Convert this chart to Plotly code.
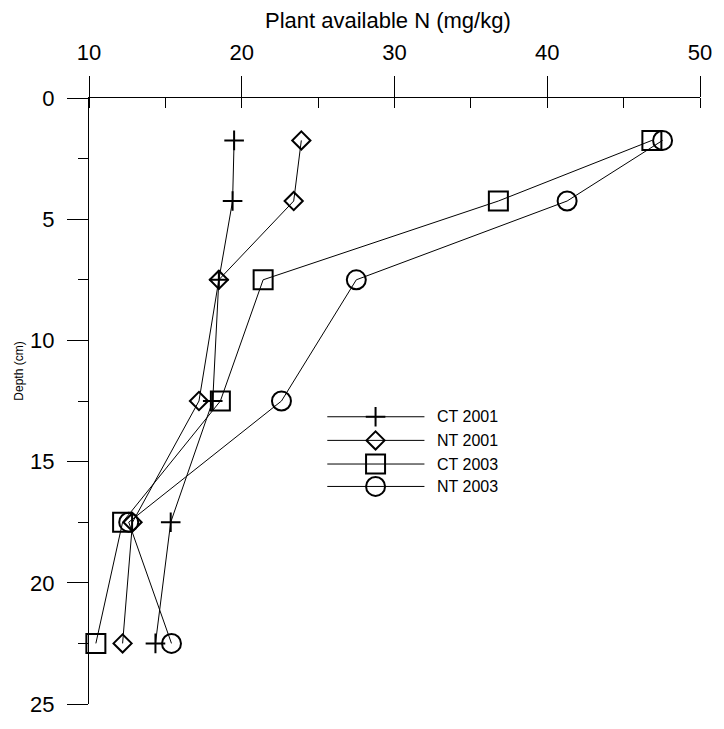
import plotly.graph_objects as go

# ---- data ----
depth = [1.75, 4.25, 7.5, 12.5, 17.5, 22.5]
ct_2001 = [19.5, 19.4, 18.5, 18.1, 15.35, 14.35]
nt_2001 = [23.9, 23.4, 18.5, 17.2, 12.85, 12.2]
ct_2003 = [46.85, 36.8, 21.4, 18.6, 12.2, 10.45]
nt_2003 = [47.55, 41.3, 27.5, 22.6, 12.6, 15.4]
series_names = ["CT 2001", "NT 2001", "CT 2003", "NT 2003"]
x_tick_vals = [10, 20, 30, 40, 50]
y_tick_vals = [0, 5, 10, 15, 20, 25]

series_values = [ct_2001, nt_2001, ct_2003, nt_2003]
symbols = ["cross-thin", "diamond-open", "square-open", "circle-open"]
sizes = [14, 14, 19, 19]

FONT = "Liberation Sans, Arial, sans-serif"

fig = go.Figure()

for name, vals, sym, sz in zip(series_names, series_values, symbols, sizes):
    fig.add_trace(go.Scatter(
        x=vals, y=depth, name=name, mode="lines+markers",
        line=dict(color="black", width=1),
        marker=dict(symbol=sym, size=sz, color="black",
                    line=dict(color="black", width=2)),
        cliponaxis=False, showlegend=False,
    ))

# ---- hand-made legend on an overlay axis (0..1 box) ----
leg_x0, leg_x1, leg_xm, leg_xt = 0.39, 0.549, 0.469, 0.566
leg_rows = [0.474, 0.435, 0.396, 0.359]
for name, sym, sz, ly in zip(series_names, symbols, sizes, leg_rows):
    fig.add_trace(go.Scatter(
        x=[leg_x0, leg_x1], y=[ly, ly], mode="lines",
        line=dict(color="black", width=1),
        xaxis="x2", yaxis="y2", showlegend=False, hoverinfo="skip"))
    fig.add_trace(go.Scatter(
        x=[leg_xm], y=[ly], mode="markers",
        marker=dict(symbol=sym, size=sz, color="black",
                    line=dict(color="black", width=2)),
        xaxis="x2", yaxis="y2", showlegend=False, hoverinfo="skip"))
    fig.add_annotation(x=leg_xt, y=ly, xref="x2", yref="y2", text=name,
                       showarrow=False, xanchor="left", yanchor="middle",
                       font=dict(family=FONT, size=16, color="black"))

# axis titles as annotations for precise placement
fig.add_annotation(x=0.49, y=1.128, xref="paper", yref="paper",
                   text="Plant available N (mg/kg)", showarrow=False,
                   xanchor="center", yanchor="middle",
                   font=dict(family=FONT, size=22, color="black"))
fig.add_annotation(x=-0.114, y=0.549, xref="paper", yref="paper",
                   text="Depth (cm)", showarrow=False, textangle=-90,
                   xanchor="center", yanchor="middle",
                   font=dict(family=FONT, size=12, color="black"))

fig.update_layout(
    width=724, height=729,
    margin=dict(l=89, r=17, t=98, b=13),
    paper_bgcolor="white", plot_bgcolor="white",
    font=dict(family=FONT, color="black"),
    xaxis=dict(
        side="top", range=[10, 50], tickvals=x_tick_vals,
        showline=True, linecolor="black", linewidth=1,
        ticks="outside", ticklen=21, tickwidth=1, tickcolor="black",
        ticklabelstandoff=7,
        minor=dict(ticks="inside", ticklen=10, dtick=5, tickwidth=1,
                   tickcolor="black", showgrid=False),
        showgrid=False, zeroline=False,
        tickfont=dict(family=FONT, size=22, color="black"),
    ),
    yaxis=dict(
        range=[25, 0], tickvals=y_tick_vals,
        showline=True, linecolor="black", linewidth=1,
        ticks="outside", ticklen=21, tickwidth=1, tickcolor="black",
        ticklabelstandoff=8,
        minor=dict(ticks="outside", ticklen=10, dtick=2.5, tickwidth=1,
                   tickcolor="black", showgrid=False),
        showgrid=False, zeroline=False,
        tickfont=dict(family=FONT, size=22, color="black"),
    ),
    xaxis2=dict(overlaying="x", range=[0, 1], visible=False),
    yaxis2=dict(overlaying="y", range=[0, 1], visible=False),
)

fig.write_html("out.html")
